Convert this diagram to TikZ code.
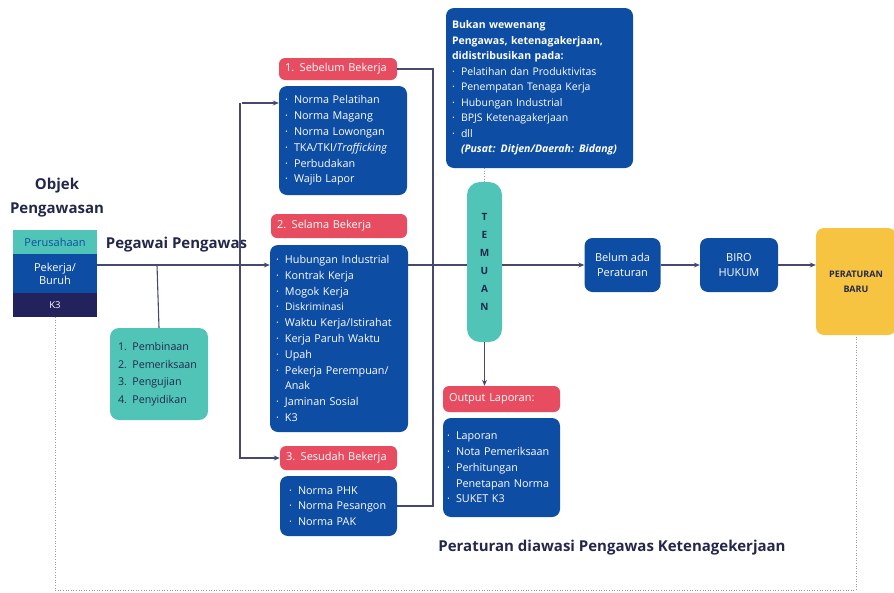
\documentclass[tikz,border=0pt]{standalone}
\usepackage{fontspec}
\setmainfont{Open Sans}
\usetikzlibrary{arrows.meta,positioning,calc}
\definecolor{boxblue}{RGB}{14,77,164}
\definecolor{navyk}{RGB}{36,34,92}
\definecolor{tealc}{RGB}{80,197,183}
\definecolor{lblred}{RGB}{232,76,96}
\definecolor{yellowc}{RGB}{247,196,66}
\definecolor{lnc}{RGB}{70,72,110}
\definecolor{titlec}{RGB}{35,40,75}
\tikzset{
  bluebox/.style={fill=boxblue, text=white, rounded corners=8pt, align=left,
    inner xsep=6pt, inner ysep=3pt, font=\fontsize{10.8}{15.8}\selectfont},
  redlbl/.style={fill=lblred, text=white, rounded corners=6pt, align=left,
    inner xsep=6pt, inner ysep=0pt, font=\fontsize{11}{12}\selectfont},
  tealbox/.style={fill=tealc, text=titlec, rounded corners=9pt, align=left,
    inner xsep=8pt, font=\fontsize{10.7}{17.5}\selectfont},
  stackrow/.style={minimum width=84pt, inner sep=0pt, align=center,
    font=\fontsize{11}{13}\selectfont},
  flowbox/.style={fill=boxblue, text=white, rounded corners=8pt, align=center,
    minimum width=76pt, minimum height=54pt, font=\fontsize{11}{15}\selectfont},
  titletxt/.style={text=titlec, font=\bfseries\fontsize{15}{24}\selectfont, align=center},
  conn/.style={-{Stealth[length=6pt,width=5pt]}, line width=1.1pt, lnc},
  ln/.style={line width=1.1pt, lnc},
  dotln/.style={line width=0.8pt, gray!80, dash pattern=on 1pt off 1.6pt},
}
\newcommand{\bul}{\makebox[9pt][l]{·}}
\begin{document}
\begin{tikzpicture}[x=1pt, y=-1pt]
  \useasboundingbox (0,0) rectangle (894,592);
  % objek pengawasan
  \node[titletxt] (objek) at (57,198) {Objek\\Pengawasan};
  \node[stackrow, fill=tealc, text=boxblue, minimum height=24pt] (perus) at (55,242) {Perusahaan};
  \node[stackrow, fill=boxblue, text=white, minimum height=39pt] (pekerja) at (55,273.5) {Pekerja/\\Buruh};
  \node[stackrow, fill=navyk, text=white, minimum height=24pt, font=\fontsize{9.5}{11}\selectfont] (k3) at (55,305) {K3};
  \node[titletxt] (pegawai) at (176.5,245) {Pegawai Pengawas};
  \node[tealbox, minimum width=98pt, minimum height=92pt, text width=82pt] (fungsi) at (159,374)
    {1. Pembinaan\\2. Pemeriksaan\\3. Pengujian\\4. Penyidikan};
  % tahapan
  \node[redlbl, minimum width=118pt, minimum height=22pt, text width=106pt] (lbl1) at (338,69) {1. Sebelum Bekerja};
  \node[bluebox, minimum height=109pt, text width=116pt] (box1) at (343,140.5)
    {\bul Norma Pelatihan\\\bul Norma Magang\\\bul Norma Lowongan\\
     \bul TKA/TKI/\textit{Trafficking}\\\bul Perbudakan\\\bul Wajib Lapor};
  \node[redlbl, minimum width=136pt, minimum height=24pt, text width=124pt] (lbl2) at (339,226) {2. Selama Bekerja};
  \node[bluebox, minimum height=187pt, text width=126pt] (box2) at (339,338.5)
    {\bul Hubungan Industrial\\\bul Kontrak Kerja\\\bul Mogok Kerja\\
     \bul{\fontsize{10.3}{15.8}\selectfont Diskriminasi}\\\bul Waktu Kerja/Istirahat\\
     \bul Kerja Paruh Waktu\\\bul Upah\\\bul Pekerja Perempuan/\\\hspace*{9pt}Anak\\
     \bul Jaminan Sosial\\\bul K3};
  \node[redlbl, minimum width=117pt, minimum height=24pt, text width=105pt] (lbl3) at (338.5,458) {3. Sesudah Bekerja};
  \node[bluebox, minimum height=60pt, inner xsep=9pt, text width=99pt] (box3) at (338.5,506)
    {\bul Norma PHK\\\bul Norma Pesangon\\\bul Norma PAK};
  % temuan dan tindak lanjut
  \node[bluebox, minimum height=160pt, text width=175pt, font=\fontsize{10.5}{15.5}\selectfont] (info) at (539.5,88)
    {\textbf{Bukan wewenang}\\\textbf{Pengawas, ketenagakerjaan,}\\\textbf{didistribusikan pada:}\\
     \bul Pelatihan dan Produktivitas\\\bul Penempatan Tenaga Kerja\\\bul Hubungan Industrial\\
     \bul BPJS Ketenagakerjaan\\\bul dll\\\hspace*{9pt}\textbf{\textit{(Pusat: Ditjen/Daerah: Bidang)}}};
  \node[fill=tealc, text=titlec, rounded corners=13pt, minimum width=35pt, minimum height=160pt,
    align=center, font=\bfseries\fontsize{10}{18}\selectfont] (temuan) at (484.5,262)
    {T\\E\\M\\U\\A\\N};
  \node[flowbox] (belum) at (622.5,265) {Belum ada\\Peraturan};
  \node[flowbox, minimum width=78pt] (biro) at (739,265) {BIRO\\HUKUM};
  \node[flowbox, fill=yellowc, text=titlec, minimum width=80pt, minimum height=107pt,
    font=\bfseries\fontsize{9}{15}\selectfont] (baru) at (856,281.5) {PERATURAN\\BARU};
  \node[redlbl, minimum width=117pt, minimum height=26pt, text width=105pt] (lbl4) at (501.5,399) {Output Laporan:};
  \node[bluebox, minimum height=99pt, inner xsep=4pt, text width=109pt] (box4) at (501.5,467.5)
    {\bul Laporan\\\bul Nota Pemeriksaan\\\bul Perhitungan\\\hspace*{9pt}Penetapan Norma\\\bul SUKET K3};
  \node[titletxt] (catatan) at (612,548) {Peraturan diawasi Pengawas Ketenagekerjaan};
  % penghubung
  \coordinate (hub) at (157,265);
  \coordinate (vtop) at (240,103);
  \coordinate (vbot) at (240,458);
  \coordinate (colbot) at (433,506);
  \coordinate (loopb) at (0,590);
  \draw[conn] (pekerja.east |- hub) -- (box2.west |- hub);
  \draw[ln] (hub) -- (fungsi.north);
  \draw[conn] (vtop -| box1.west) ++(-37,0) -- (vtop -| box1.west);
  \draw[conn] (vtop) -- (vbot) -- (lbl3.west);
  \draw[ln] (lbl1.east) -| (colbot) -- (box3.east);
  \draw[ln] (box2.east |- hub) -- (temuan.west |- hub);
  \draw[dotln] (temuan.north |- info.south) -- (temuan.north);
  \draw[conn] (temuan.east |- hub) -- (belum.west);
  \draw[conn] (belum.east) -- (biro.west);
  \draw[conn] (biro.east) -- (baru.west |- biro.east);
  \draw[conn] (temuan.south) -- (temuan.south |- lbl4.north);
  \draw[dotln] (k3.south) -- (k3.south |- loopb) -| (baru.south);
\end{tikzpicture}
\end{document}
